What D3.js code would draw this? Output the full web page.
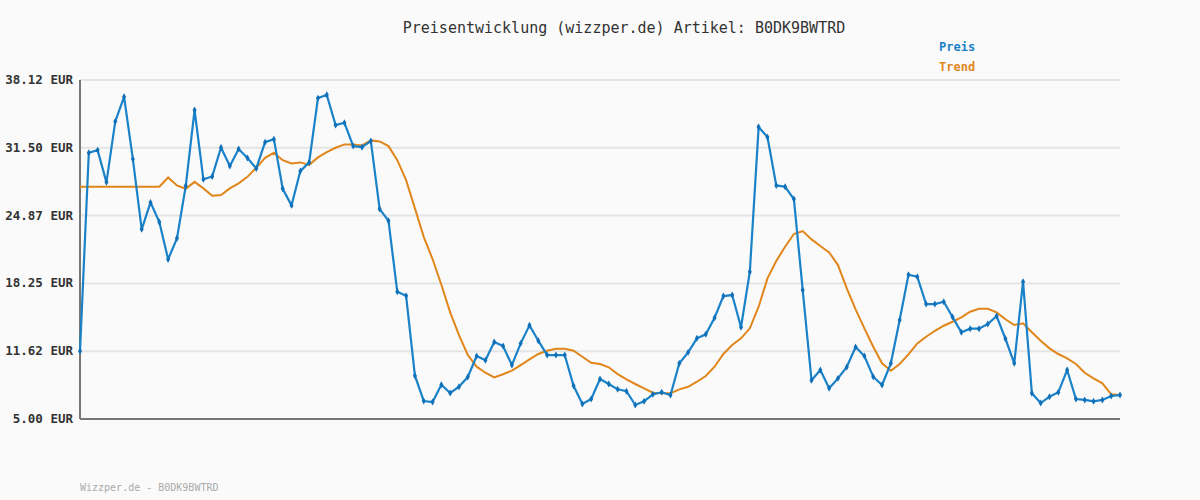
<!DOCTYPE html>
<html><head><meta charset="utf-8">
<script src="https://cdn.jsdelivr.net/npm/d3@7"></script>
<style>body{margin:0;background:#fafafa}text{font-family:"DejaVu Sans Mono",monospace}</style>
</head><body><svg id="svg"></svg>
<script>
// values
const preis = [11.62,31.01,31.27,28.12,34.07,36.48,30.39,23.53,26.16,24.24,
20.6,22.65,27.78,35.18,28.41,28.7,31.53,29.71,31.37,30.49,
29.48,32.05,32.34,27.49,25.87,29.22,30.07,36.35,36.67,33.71,
33.94,31.66,31.56,32.15,25.51,24.37,17.43,17.04,9.23,6.76,
6.66,8.35,7.54,8.15,9.1,11.15,10.73,12.52,12.13,10.27,
12.39,14.15,12.65,11.25,11.25,11.25,8.25,6.46,6.95,8.91,
8.42,7.9,7.71,6.37,6.73,7.41,7.61,7.34,10.44,11.51,
12.88,13.27,14.89,17.01,17.11,13.96,19.39,33.52,32.54,27.82,
27.69,26.49,17.6,8.78,9.79,8.0,8.97,10.08,12.03,11.15,
9.13,8.32,10.44,14.67,19.09,18.9,16.23,16.23,16.46,14.96,
13.47,13.82,13.82,14.28,15.06,12.84,10.44,18.41,7.51,6.56,
7.18,7.61,9.79,6.95,6.86,6.73,6.86,7.25,7.34];
const trend = [27.69,27.69,27.69,27.69,27.69,27.69,27.69,27.69,27.69,27.69,
28.6,27.82,27.49,28.17,27.53,26.81,26.88,27.53,28.02,28.66,
29.54,30.52,31.01,30.29,29.97,30.07,29.83,30.56,31.07,31.5,
31.83,31.83,31.73,32.22,32.12,31.66,30.29,28.34,25.58,22.8,
20.63,18.12,15.42,13.2,11.25,10.11,9.52,9.07,9.37,9.72,
10.27,10.83,11.35,11.67,11.87,11.87,11.67,11.08,10.5,10.37,
10.05,9.39,8.88,8.42,8.0,7.57,7.51,7.51,7.9,8.15,
8.64,9.2,10.11,11.35,12.23,12.88,13.86,15.97,18.74,20.43,
21.83,23.07,23.36,22.55,21.9,21.28,20.04,17.76,15.71,13.86,
12.06,10.44,9.72,10.37,11.32,12.39,13.04,13.62,14.11,14.5,
14.93,15.48,15.77,15.77,15.42,14.74,14.18,14.35,13.47,12.65,
11.9,11.35,10.93,10.37,9.52,8.97,8.49,7.41,7.34];
const yTicks = [5.00,11.62,18.25,24.87,31.50,38.12];
const artikel = "B0DK9BWTRD";

const W = 1200, H = 500, mLeft = 80, mRight = 1120, mTop = 80, mBottom = 419;
const svg = d3.select("#svg").attr("width", W).attr("height", H);
svg.append("rect").attr("width", W).attr("height", H).attr("fill", "#fafafa");

const x = d3.scaleLinear().domain([0, preis.length - 1]).range([mLeft, mRight]);
const y = d3.scaleLinear().domain([5, 38.12]).range([mBottom, mTop]);

svg.append("g").selectAll("line").data(yTicks.slice(1)).join("line")
  .attr("x1", mLeft).attr("x2", mRight).attr("y1", d => y(d)).attr("y2", d => y(d))
  .attr("stroke", "#e4e4e4").attr("stroke-width", 2);

svg.append("g").selectAll("text").data(yTicks).join("text")
  .attr("x", 73).attr("y", d => y(d) + 4).attr("text-anchor", "end")
  .attr("font-size", 12.5).attr("font-weight", "bold").attr("fill", "#333")
  .text(d => d.toFixed(2) + " EUR");

svg.append("line").attr("x1", mLeft).attr("x2", mLeft).attr("y1", mTop).attr("y2", mBottom).attr("stroke", "#777").attr("stroke-width", 2);
svg.append("line").attr("x1", mLeft).attr("x2", mRight).attr("y1", mBottom).attr("y2", mBottom).attr("stroke", "#777").attr("stroke-width", 2);

const line = d3.line().x((d, i) => x(i)).y(d => y(d));
svg.append("path").datum(trend).attr("fill", "none").attr("stroke", "#e0861a").attr("stroke-width", 2).attr("d", line);
svg.append("path").datum(preis).attr("fill", "none").attr("stroke", "#1a82c8").attr("stroke-width", 2.2).attr("d", line);
svg.append("g").selectAll("path").data(preis).join("path")
  .attr("transform", (d, i) => `translate(${x(i)},${y(d)})`)
  .attr("d", d3.symbol(d3.symbolDiamond, 14)).attr("fill", "#1070b8");

svg.append("text").attr("x", 624).attr("y", 33).attr("text-anchor", "middle")
  .attr("font-size", 15).attr("fill", "#333").text("Preisentwicklung (wizzper.de) Artikel: " + artikel);
svg.append("text").attr("x", 939).attr("y", 51).attr("font-size", 12).attr("font-weight", "bold").attr("fill", "#1a82c8").text("Preis");
svg.append("text").attr("x", 939).attr("y", 71).attr("font-size", 12).attr("font-weight", "bold").attr("fill", "#e0861a").text("Trend");
svg.append("text").attr("x", 80).attr("y", 491).attr("font-size", 10).attr("fill", "#aaa").text("Wizzper.de - " + artikel);
</script></body></html>
